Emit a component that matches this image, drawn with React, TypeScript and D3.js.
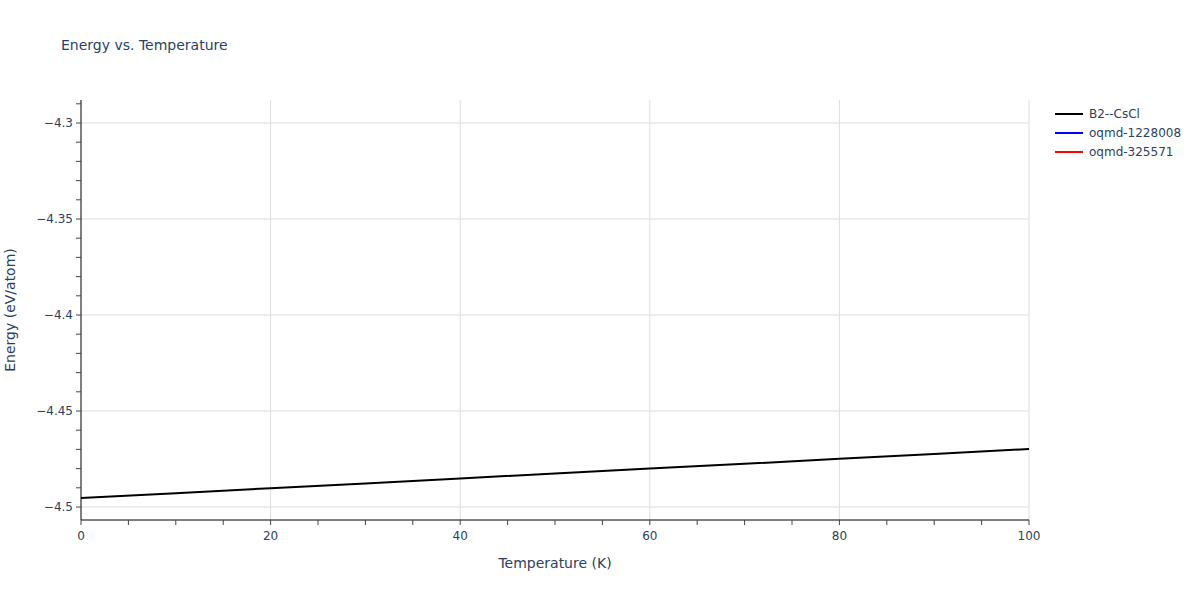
import React from "react";
import * as d3 from "d3";

const temperatures = [0, 10, 20, 30, 40, 50, 60, 70, 80, 90, 100];
const energyB2 = [-4.4953, -4.4928, -4.4902, -4.4877, -4.4851, -4.4826, -4.48, -4.4775, -4.4749, -4.4724, -4.4698];
const seriesNames = ["B2--CsCl", "oqmd-1228008", "oqmd-325571"];
const seriesColors = ["#000000", "#0000ff", "#ff0000"];
const xMajorTicks = [0, 20, 40, 60, 80, 100];
const yMajorTicks = [-4.5, -4.45, -4.4, -4.35, -4.3];

const W = 1200;
const H = 600;
const left = 81;
const right = 1029;
const top = 100;
const bottom = 520;
const font = "'DejaVu Sans', Verdana, sans-serif";
const textColor = "#2a3f5f";

export default function App() {
  const x = d3.scaleLinear().domain([0, 100]).range([left, right]);
  const y = d3.scaleLinear().domain([-4.50677, -4.28802]).range([bottom, top]);
  const xMinor = d3.range(0, 100.001, 5);
  const yMinor = d3.range(-4.5, -4.285, 0.01).filter((v) => y(v) >= top - 0.5);
  const line = d3
    .line<number>()
    .x((_, i) => x(temperatures[i]))
    .y((d) => y(d));

  return (
    <svg width={W} height={H} style={{ position: "absolute", left: 0, top: 0, background: "#fff" }}>
      <text x={61} y={50} fontFamily={font} fontSize={14} fill={textColor}>
        Energy vs. Temperature
      </text>
      {/* grid */}
      {xMajorTicks
        .filter((t) => t !== 0)
        .map((t) => (
          <line key={"gx" + t} x1={x(t)} x2={x(t)} y1={top} y2={bottom} stroke="#dddddd" strokeWidth={1} />
        ))}
      {yMajorTicks.map((t) => (
        <line key={"gy" + t} x1={left} x2={right} y1={y(t)} y2={y(t)} stroke="#dddddd" strokeWidth={1} />
      ))}
      {/* data */}
      <path d={line(energyB2) || ""} fill="none" stroke={seriesColors[0]} strokeWidth={2} />
      {/* axes */}
      <line x1={left} x2={right} y1={bottom} y2={bottom} stroke="#000" strokeWidth={1} />
      <line x1={left} x2={left} y1={top} y2={bottom} stroke="#000" strokeWidth={1} />
      {xMinor.map((t) => (
        <line key={"tx" + t} x1={x(t)} x2={x(t)} y1={bottom} y2={bottom + 5} stroke="#444" strokeWidth={1} />
      ))}
      {yMinor.map((t, i) => (
        <line key={"ty" + i} x1={left - 5} x2={left} y1={y(t)} y2={y(t)} stroke="#444" strokeWidth={1} />
      ))}
      {xMajorTicks.map((t) => (
        <text key={"lx" + t} x={x(t)} y={bottom + 20} textAnchor="middle" fontFamily={font} fontSize={12} fill={textColor}>
          {t}
        </text>
      ))}
      {yMajorTicks.map((t) => (
        <text key={"ly" + t} x={left - 8} y={y(t)} dy="0.35em" textAnchor="end" fontFamily={font} fontSize={12} fill={textColor}>
          {d3.format("")(t).replace("-", "\u2212")}
        </text>
      ))}
      <text x={(left + right) / 2} y={568} textAnchor="middle" fontFamily={font} fontSize={14} fill={textColor}>
        Temperature (K)
      </text>
      <text
        transform={`translate(15, ${(top + bottom) / 2}) rotate(-90)`}
        textAnchor="middle"
        fontFamily={font}
        fontSize={14}
        fill={textColor}
      >
        Energy (eV/atom)
      </text>
      {/* legend */}
      {seriesNames.map((n, i) => (
        <g key={n} transform={`translate(1055, ${114 + i * 19})`}>
          <line x1={0} x2={28} y1={0} y2={0} stroke={seriesColors[i]} strokeWidth={2} />
          <text x={34} y={0} dy="0.35em" fontFamily={font} fontSize={12} fill={textColor}>
            {n}
          </text>
        </g>
      ))}
    </svg>
  );
}
